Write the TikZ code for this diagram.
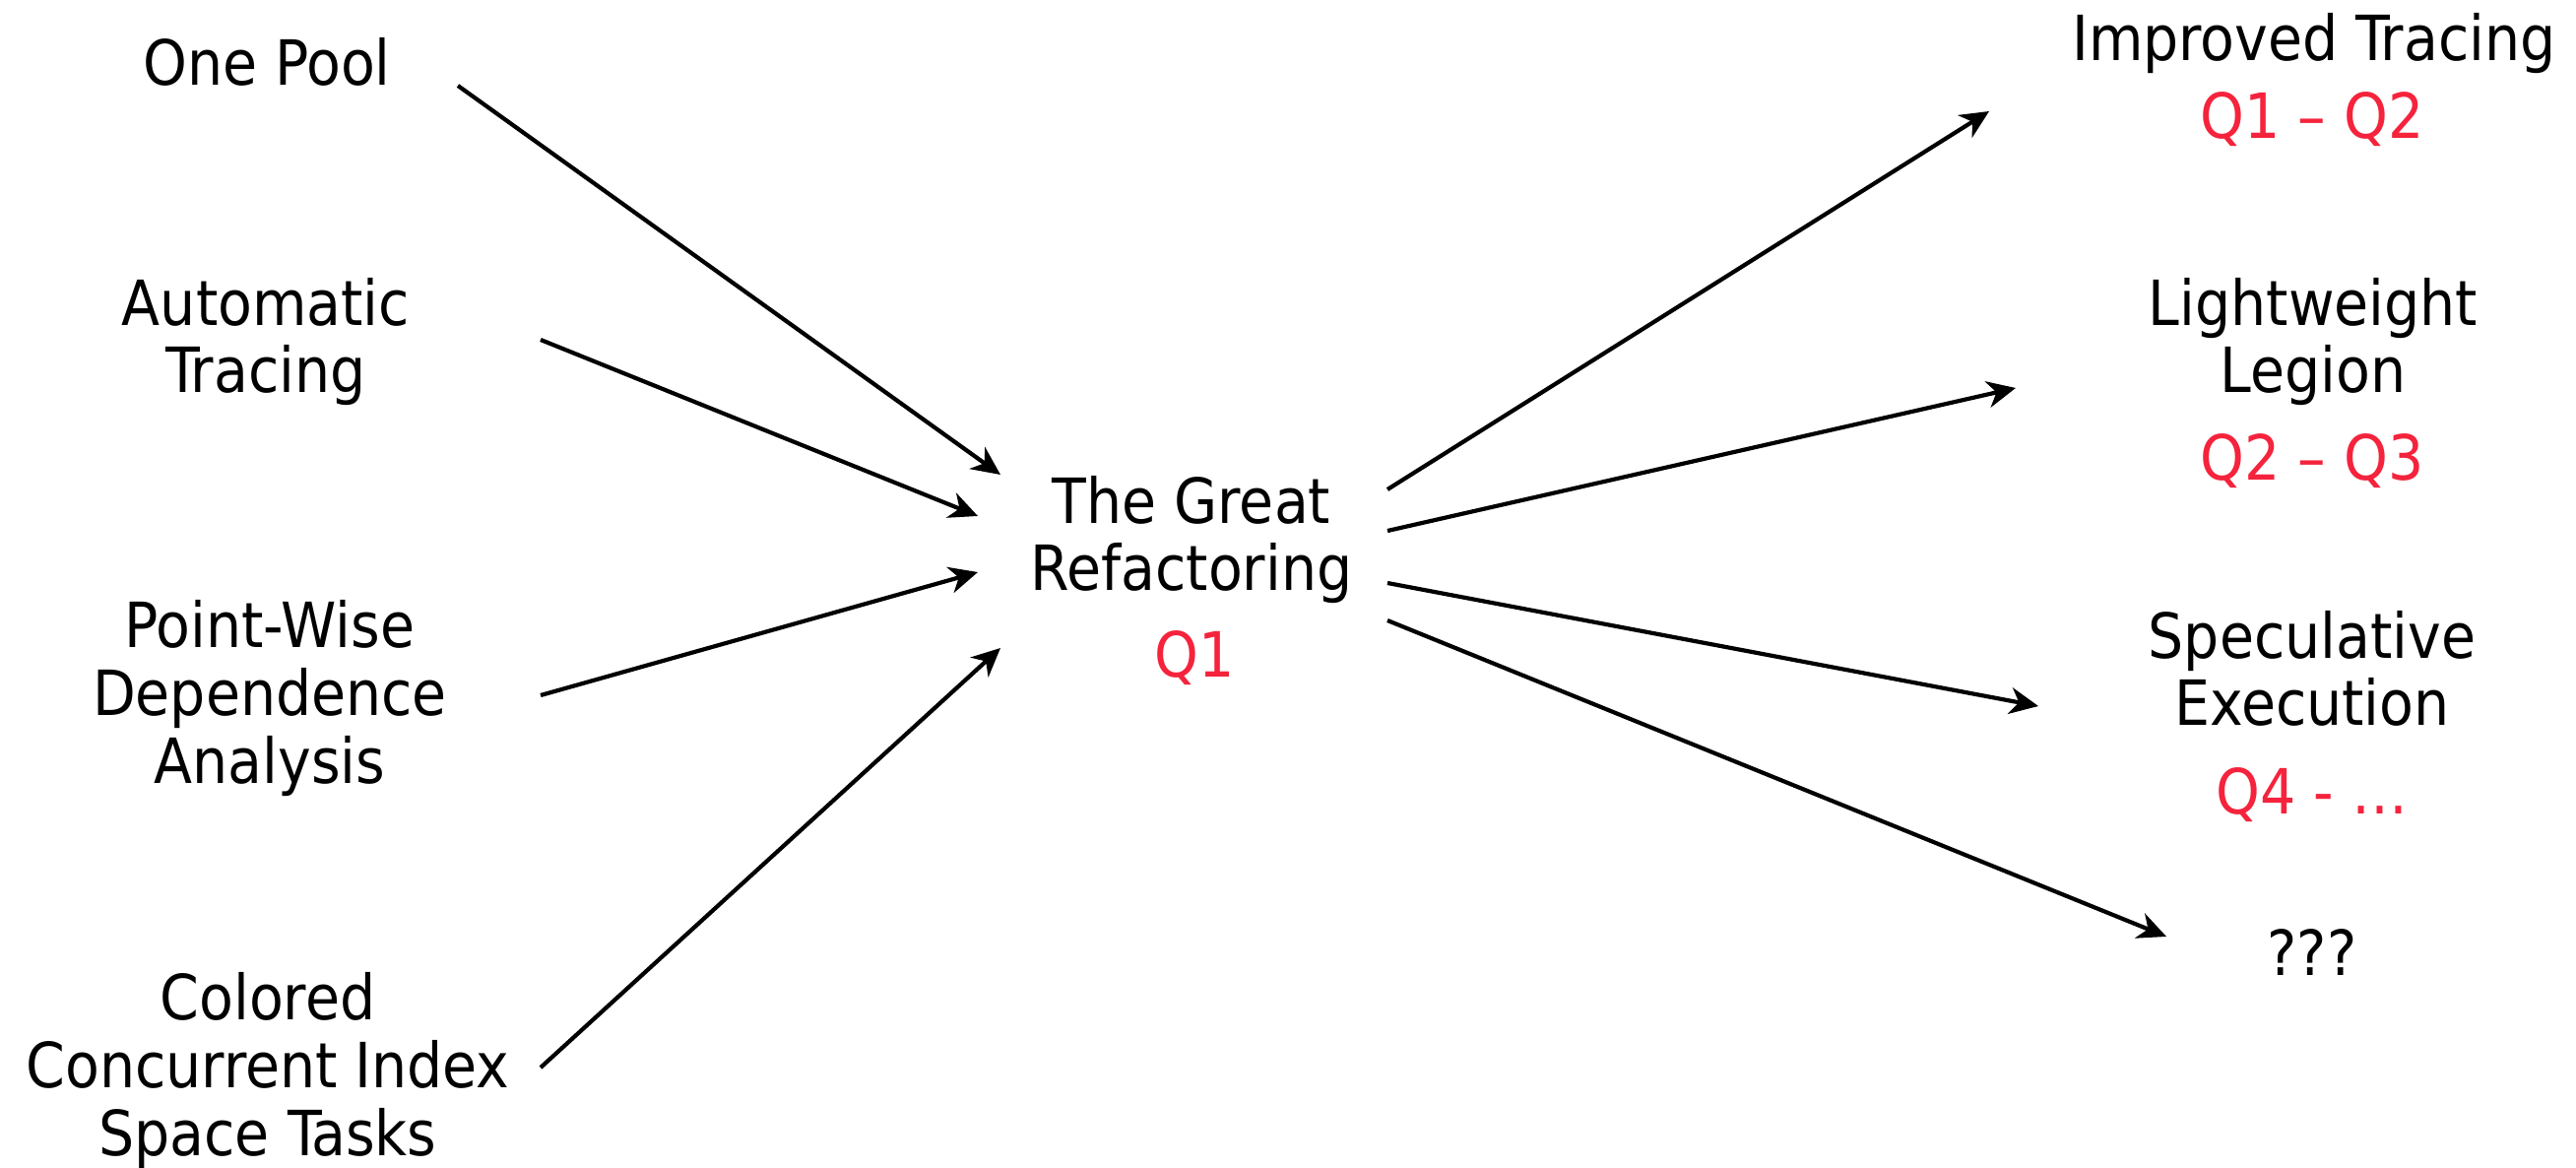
\documentclass[tikz,border=0pt]{standalone}
\usepackage{fontspec}
\setmainfont{DejaVu Sans Condensed}
\usetikzlibrary{arrows.meta}
\definecolor{qred}{RGB}{245,35,60}
\begin{document}
\begin{tikzpicture}[x=0.01cm,y=-0.01cm,
  lbl/.style={align=center, inner sep=0pt, anchor=base, font=\fontsize{18}{19.6}\selectfont},
  qlbl/.style={lbl, text=qred},
  arr/.style={-{Stealth[length=0.29cm,width=0.27cm,inset=0.09cm]}, line width=0.042cm}]
\useasboundingbox (0,0) rectangle (2616,1186);
% left inputs (base = baseline of last line)
\node[lbl] (pool)  at (271,87)   {One Pool};
\node[lbl] (auto)  at (270,399)  {Automatic\\Tracing};
\node[lbl] (pwd)   at (274,795)  {Point-Wise\\Dependence\\Analysis};
\node[lbl] (ccist) at (272,1173) {Colored\\Concurrent Index\\Space Tasks};
% centre
\node[lbl]  (great) at (1210,600) {The Great\\Refactoring};
\node[qlbl] (q1)    at (1213,688) {Q1};
% right outputs
\node[lbl]  (imp)    at (2350,62)  {Improved Tracing};
\node[qlbl] (impq)   at (2348,141) {Q1 – Q2};
\node[lbl]  (light)  at (2349,399) {Lightweight\\Legion};
\node[qlbl] (lightq) at (2348,488) {Q2 – Q3};
\node[lbl]  (spec)   at (2348,737) {Speculative\\Execution};
\node[qlbl] (specq)  at (2348,827) {Q4 - …};
\node[lbl]  (unk)    at (2348,990) {???};
% connectors
\draw[arr] ([shift={(194,0)}]pool.base)    -- ([shift={(-194,-118)}]great.base);
\draw[arr] ([shift={(279,-54)}]auto.base)  -- ([shift={(-217,-76)}]great.base);
\draw[arr] ([shift={(275,-89)}]pwd.base)   -- ([shift={(-217,-19)}]great.base);
\draw[arr] ([shift={(277,-89)}]ccist.base) -- ([shift={(-194,58)}]great.base);
\draw[arr] ([shift={(199,-103)}]great.base) -- ([shift={(-330,51)}]imp.base);
\draw[arr] ([shift={(199,-61)}]great.base)  -- ([shift={(-302,-5)}]light.base);
\draw[arr] ([shift={(199,-8)}]great.base)   -- ([shift={(-278,-20)}]spec.base);
\draw[arr] ([shift={(199,30)}]great.base)   -- ([shift={(-148,-39)}]unk.base);
\end{tikzpicture}
\end{document}
